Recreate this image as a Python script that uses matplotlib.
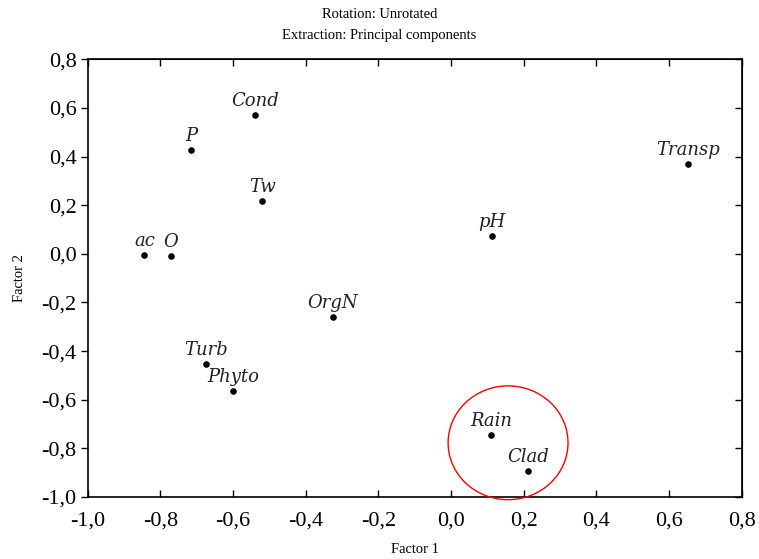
import matplotlib
matplotlib.use("Agg")
import matplotlib.pyplot as plt
from matplotlib.patches import Ellipse
from matplotlib.ticker import FuncFormatter

# factor loadings
names = ["ac", "O", "P", "Cond", "Tw", "OrgN", "Turb", "Phyto", "pH", "Transp", "Rain", "Clad"]
factor1 = [-0.844, -0.771, -0.716, -0.540, -0.520, -0.326, -0.674, -0.599, 0.113, 0.653, 0.110, 0.211]
factor2 = [-0.004, -0.008, 0.425, 0.571, 0.216, -0.261, -0.453, -0.562, 0.073, 0.370, -0.745, -0.891]

xticks = [-1.0, -0.8, -0.6, -0.4, -0.2, 0.0, 0.2, 0.4, 0.6, 0.8]
yticks = [-1.0, -0.8, -0.6, -0.4, -0.2, 0.0, 0.2, 0.4, 0.6, 0.8]

serif = "Liberation Serif"
comma = FuncFormatter(lambda v, p: ("%.1f" % v).replace(".", ","))

fig = plt.figure(figsize=(7.59, 5.59), dpi=100)
ax = fig.add_axes([0.1155, 0.1109, 0.8617, 0.783])

ax.scatter(factor1, factor2, s=14, color="black", zorder=3)
for n, x, y in zip(names, factor1, factor2):
    ax.annotate(n, (x, y), xytext=(0, 9), textcoords="offset pixels",
                ha="center", va="baseline", fontsize=13,
                family="DejaVu Serif", style="italic", color="#222222")

# red circle around Rain / Clad
ax.add_patch(Ellipse((0.157, -0.777), 0.330, 0.468, fill=False,
                     edgecolor="red", linewidth=1.0, clip_on=False, zorder=4))

ax.set_xlim(-1.0, 0.8)
ax.set_ylim(-1.0, 0.8)
ax.set_xticks(xticks)
ax.set_yticks(yticks)
ax.xaxis.set_major_formatter(comma)
ax.yaxis.set_major_formatter(comma)

for lab in ax.get_xticklabels() + ax.get_yticklabels():
    lab.set_family(serif)
    lab.set_fontsize(16)

ax.tick_params(axis="x", direction="in", length=5, width=1, pad=10.5)
ax.tick_params(axis="y", direction="out", length=5, width=1, pad=3)
for s in ax.spines.values():
    s.set_linewidth(1.2)

top = ax.secondary_xaxis("top")
top.set_xticks(xticks)
top.tick_params(direction="in", length=5, width=1, labeltop=False)
right = ax.secondary_yaxis("right")
right.set_yticks(yticks)
right.tick_params(direction="in", length=5, width=1, labelright=False)

ax.set_xlabel("Factor 1", family=serif, fontsize=10.5, labelpad=9)
ax.set_ylabel("Factor 2", family=serif, fontsize=10.5, labelpad=11)

fig.text(0.5, 1 - 15 / 559, "Rotation: Unrotated", ha="center", va="center",
         family=serif, fontsize=10.5)
fig.text(0.5, 1 - 35 / 559, "Extraction: Principal components", ha="center", va="center",
         family=serif, fontsize=10.5)

fig.savefig("out.png", dpi=100)
